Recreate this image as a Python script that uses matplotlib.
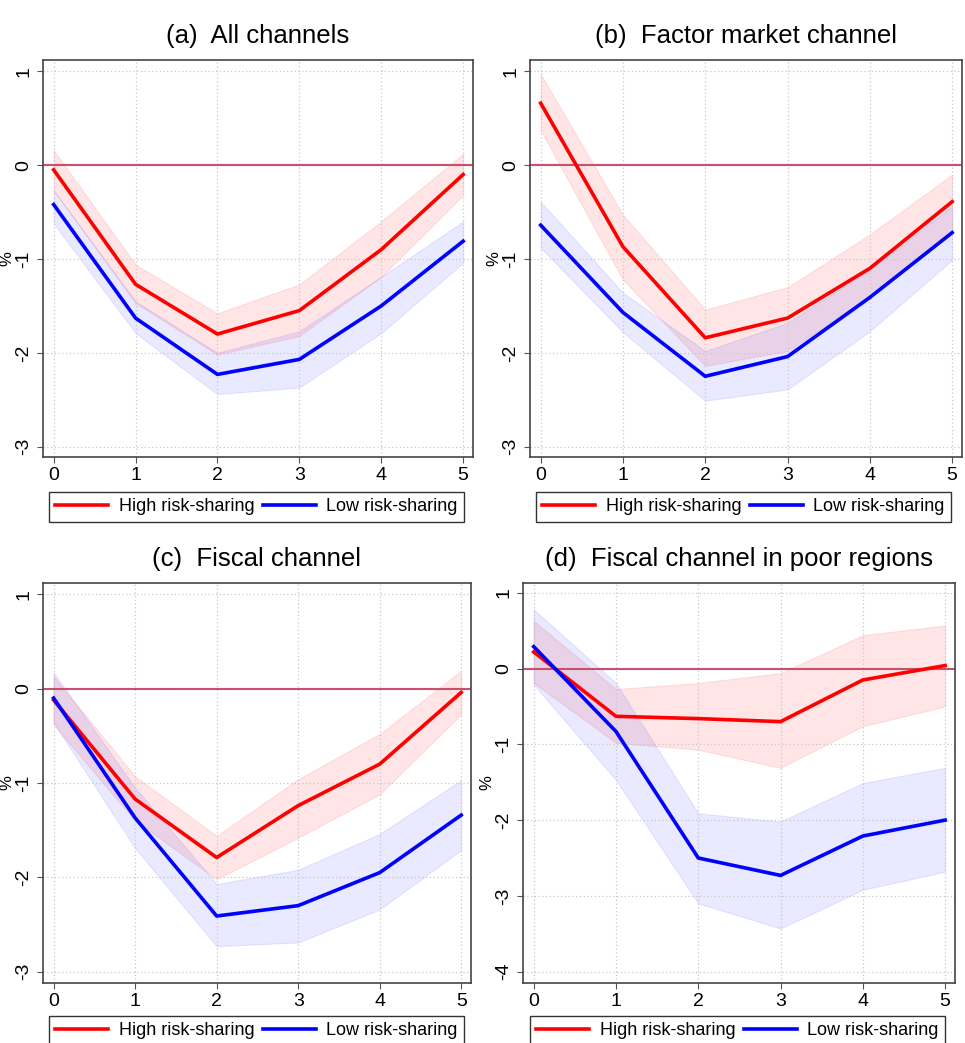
import numpy as np
import matplotlib
matplotlib.use("Agg")
import matplotlib.pyplot as plt

plt.rcParams['font.family'] = ['Liberation Sans', 'DejaVu Sans']

# horizon (years)
h = [0, 1, 2, 3, 4, 5]

# (a) All channels
a_high = [-0.05, -1.27, -1.80, -1.55, -0.90, -0.10]
a_high_up = [0.16, -1.06, -1.58, -1.27, -0.60, 0.12]
a_high_lo = [-0.27, -1.47, -2.02, -1.82, -1.19, -0.32]
a_low = [-0.42, -1.63, -2.23, -2.07, -1.50, -0.81]
a_low_up = [-0.27, -1.45, -2.00, -1.77, -1.19, -0.60]
a_low_lo = [-0.62, -1.79, -2.44, -2.37, -1.79, -1.04]

# (b) Factor market channel
b_high = [0.66, -0.87, -1.84, -1.63, -1.10, -0.39]
b_high_up = [0.97, -0.53, -1.54, -1.30, -0.74, -0.10]
b_high_lo = [0.37, -1.22, -2.14, -1.98, -1.40, -0.69]
b_low = [-0.64, -1.57, -2.25, -2.04, -1.41, -0.72]
b_low_up = [-0.39, -1.36, -1.98, -1.68, -1.11, -0.44]
b_low_lo = [-0.88, -1.78, -2.51, -2.39, -1.77, -1.01]

# (c) Fiscal channel
c_high = [-0.12, -1.17, -1.79, -1.24, -0.80, -0.04]
c_high_up = [0.13, -0.93, -1.56, -0.96, -0.48, 0.19]
c_high_lo = [-0.38, -1.40, -2.02, -1.58, -1.12, -0.27]
c_low = [-0.10, -1.37, -2.41, -2.30, -1.95, -1.34]
c_low_up = [0.17, -1.05, -2.07, -1.92, -1.54, -0.97]
c_low_lo = [-0.36, -1.69, -2.73, -2.69, -2.34, -1.71]

# (d) Fiscal channel in poor regions
d_high = [0.22, -0.63, -0.66, -0.70, -0.15, 0.04]
d_high_up = [0.63, -0.27, -0.19, -0.06, 0.44, 0.57]
d_high_lo = [-0.19, -0.98, -1.07, -1.31, -0.76, -0.50]
d_low = [0.29, -0.83, -2.50, -2.73, -2.21, -2.00]
d_low_up = [0.78, -0.19, -1.91, -2.02, -1.51, -1.31]
d_low_lo = [-0.21, -1.47, -3.10, -3.43, -2.92, -2.68]

titles = ["(a)  All channels", "(b)  Factor market channel",
          "(c)  Fiscal channel", "(d)  Fiscal channel in poor regions"]

W, H = 965, 1043
fig = plt.figure(figsize=(W / 100, H / 100), dpi=100)


def px_axes(left, right, top, bottom):
    return fig.add_axes([left / W, (H - bottom) / H, (right - left) / W, (bottom - top) / H])


def panel(ax, high, hu, hl, low, lu, ll, ylim, yticks, title, leg_pos):
    ax.fill_between(h, hl, hu, color="#ff3030", alpha=0.12, lw=0.8)
    ax.fill_between(h, ll, lu, color="#3030ff", alpha=0.10, lw=0.8)
    ax.axhline(0, color="#c8506e", lw=1.5, zorder=2)
    l1, = ax.plot(h, high, color="#ff0000", lw=2.6, zorder=3, label="High risk-sharing")
    l2, = ax.plot(h, low, color="#0000ff", lw=2.6, zorder=3, label="Low risk-sharing")
    ax.set_xlim(-0.13, 5.12)
    ax.set_ylim(*ylim)
    ax.set_xticks(h)
    ax.set_yticks(yticks)
    ax.set_yticklabels([str(v) for v in yticks], rotation=90, va="center")
    ax.grid(True, ls=(0, (1, 2)), color="#c8c8c8", lw=0.9)
    ax.tick_params(labelsize=14, length=4, width=0.8, color="#555555")
    for s in ax.spines.values():
        s.set_color("#444444")
        s.set_linewidth(1.2)
    ax.set_ylabel("%", fontsize=12, labelpad=1)
    ax.set_title(title, fontsize=18.5, pad=12)
    x0, y0 = leg_pos
    ax.legend(handles=[l1, l2], loc="upper left", ncol=2,
              bbox_to_anchor=(x0 / W, (H - y0) / H),
              bbox_transform=fig.transFigure, fontsize=13, frameon=True,
              fancybox=False, edgecolor="#333333", handlelength=2.9,
              borderaxespad=0, borderpad=0.35, columnspacing=0.5,
              handletextpad=0.6, framealpha=1)


ax_a = px_axes(43, 473, 60, 457)
panel(ax_a, a_high, a_high_up, a_high_lo, a_low, a_low_up, a_low_lo,
      (-3.11, 1.12), [-3, -2, -1, 0, 1], titles[0], (49, 492))

ax_b = px_axes(530, 962, 60, 457)
panel(ax_b, b_high, b_high_up, b_high_lo, b_low, b_low_up, b_low_lo,
      (-3.11, 1.12), [-3, -2, -1, 0, 1], titles[1], (536, 492))

ax_c = px_axes(43, 471, 583, 983)
panel(ax_c, c_high, c_high_up, c_high_lo, c_low, c_low_up, c_low_lo,
      (-3.12, 1.12), [-3, -2, -1, 0, 1], titles[2], (49, 1016))

ax_d = px_axes(523, 955, 583, 983)
panel(ax_d, d_high, d_high_up, d_high_lo, d_low, d_low_up, d_low_lo,
      (-4.15, 1.13), [-4, -3, -2, -1, 0, 1], titles[3], (530, 1016))

fig.savefig("out.png", dpi=100)
